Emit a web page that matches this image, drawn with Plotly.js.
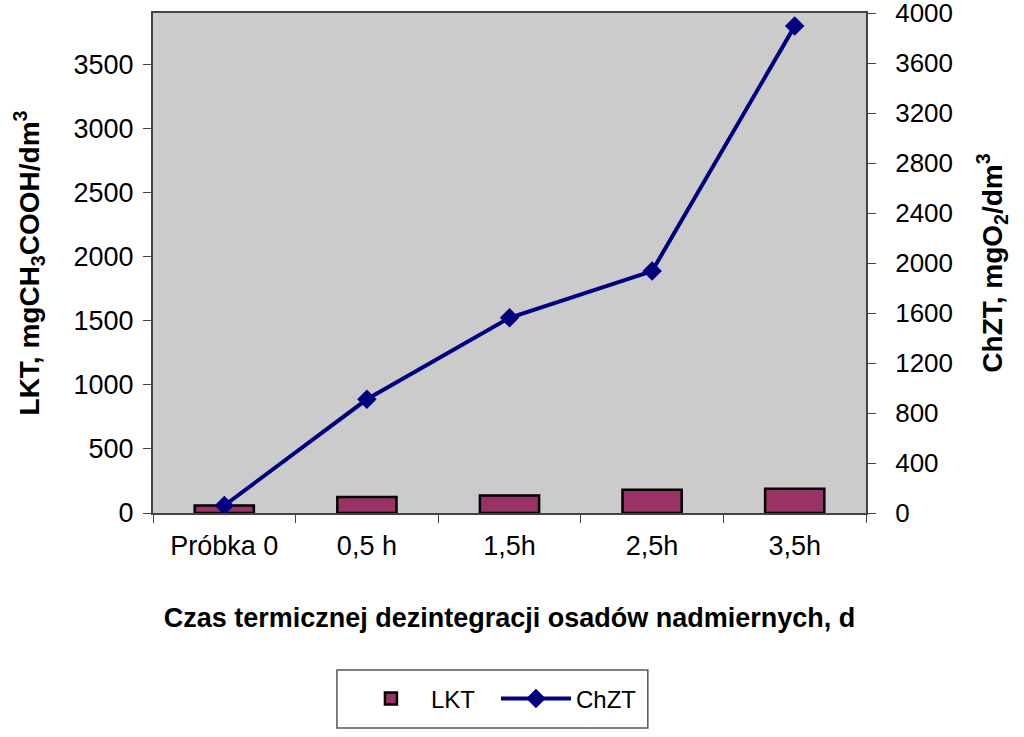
<!DOCTYPE html>
<html>
<head>
<meta charset="utf-8">
<script src="https://cdn.plot.ly/plotly-3.0.1.min.js"></script>
<style>
  html, body { margin: 0; padding: 0; background: #fff; }
  #chart { width: 1024px; height: 737px; }
</style>
</head>
<body>
<div id="chart"></div>
<script>
// categories on the x axis
var categories = ["Próbka 0", "0,5 h", "1,5h", "2,5h", "3,5h"];
// LKT, mgCH3COOH/dm3 (bars, left axis)
var lkt = [58, 125, 137, 182, 190];
// ChZT, mgO2/dm3 (line, right axis)
var chzt = [60, 910, 1562, 1936, 3896];
// tick values of both value axes
var leftTicks = [0, 500, 1000, 1500, 2000, 2500, 3000, 3500];
var rightTicks = [0, 400, 800, 1200, 1600, 2000, 2400, 2800, 3200, 3600, 4000];

var font = "Liberation Sans, Arial, sans-serif";

var barTrace = {
  type: "bar",
  name: "LKT",
  x: categories,
  y: lkt,
  width: 0.415,
  marker: {
    color: "#993366",
    line: { color: "#000000", width: 2.5 }
  },
  yaxis: "y"
};

var lineTrace = {
  type: "scatter",
  mode: "lines+markers",
  name: "ChZT",
  x: categories,
  y: chzt,
  line: { color: "#000080", width: 4 },
  marker: { symbol: "diamond", size: 15, color: "#000080" },
  yaxis: "y2"
};

var layout = {
  width: 1024,
  height: 737,
  margin: { l: 153, r: 158, t: 13, b: 224, autoexpand: false },
  paper_bgcolor: "#ffffff",
  plot_bgcolor: "#cbcbcb",
  font: { family: font, size: 27, color: "#000000" },
  showlegend: true,
  legend: {
    orientation: "h",
    x: 0.481,
    xanchor: "center",
    y: -0.372,
    yanchor: "middle",
    bgcolor: "rgba(0,0,0,0)",
    borderwidth: 0,
    font: { family: font, size: 24 },
    itemwidth: 70,
    entrywidth: 60
  },
  // legend frame
  shapes: [{
    type: "rect",
    xref: "paper", yref: "paper",
    x0: 0.258, x1: 0.694,
    y0: -0.43, y1: -0.314,
    fillcolor: "#ffffff",
    line: { color: "#555555", width: 1.5 },
    layer: "below"
  }],
  xaxis: {
    type: "category",
    showline: true,
    linecolor: "#444444",
    linewidth: 2,
    mirror: true,
    ticks: "outside",
    tickson: "boundaries",
    ticklen: 8,
    tickcolor: "#444444",
    ticklabelstandoff: 8,
    showgrid: false,
    tickfont: { family: font, size: 27 },
    title: {
      text: "Czas termicznej dezintegracji osadów nadmiernych, d",
      font: { family: font, size: 27, weight: "bold" },
      standoff: 48
    }
  },
  yaxis: {
    range: [0, 3900],
    tickvals: leftTicks,
    showline: true,
    linecolor: "#444444",
    linewidth: 2,
    ticks: "outside",
    ticklen: 8,
    tickcolor: "#444444",
    ticklabelstandoff: 4,
    ticklabeloverflow: "allow",
    showgrid: false,
    zeroline: false,
    tickfont: { family: font, size: 27 },
    title: {
      text: "LKT, mgCH<sub>3</sub>COOH/dm<sup>3</sup>",
      font: { family: font, size: 28, weight: "bold" },
      standoff: 26
    }
  },
  yaxis2: {
    range: [0, 4001],
    tickvals: rightTicks,
    overlaying: "y",
    side: "right",
    showline: true,
    linecolor: "#444444",
    linewidth: 2,
    ticks: "outside",
    ticklen: 8,
    tickcolor: "#444444",
    ticklabelstandoff: 14,
    ticklabeloverflow: "allow",
    showgrid: false,
    zeroline: false,
    tickfont: { family: font, size: 26 },
    title: {
      text: "ChZT, mgO<sub>2</sub>/dm<sup>3</sup>",
      font: { family: font, size: 28, weight: "bold" },
      standoff: 30
    }
  }
};

Plotly.newPlot("chart", [barTrace, lineTrace], layout, { displayModeBar: false, staticPlot: true });
</script>
</body>
</html>
